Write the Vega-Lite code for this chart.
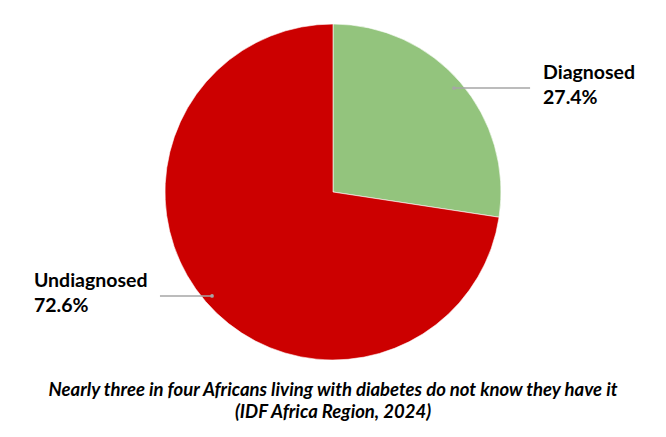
{
  "$schema": "https://vega.github.io/schema/vega-lite/v6.json",
  "width": 666,
  "height": 384,
  "padding": 0,
  "autosize": {"type": "pad"},
  "background": "white",
  "config": {"view": {"stroke": null}},
  "title": {
    "text": ["Nearly three in four Africans living with diabetes do not know they have it", "(IDF Africa Region, 2024)"],
    "orient": "bottom",
    "anchor": "middle",
    "offset": -3,
    "font": "Lato",
    "fontSize": 18.5,
    "fontWeight": "bold",
    "fontStyle": "italic",
    "color": "#000000",
    "lineHeight": 22
  },
  "datasets": {
    "slices": [
      {"status": "Diagnosed", "share": 27.4, "order": 1},
      {"status": "Undiagnosed", "share": 72.6, "order": 2}
    ],
    "labels": [
      {"status": "Diagnosed", "label": "Diagnosed\n27.4%", "dotX": 0.72, "dotY": 0.619, "lineEnd": 1.173, "textX": 1.25},
      {"status": "Undiagnosed", "label": "Undiagnosed\n72.6%", "dotX": -0.72, "dotY": -0.619, "lineEnd": -1.03, "textX": -1.78}
    ]
  },
  "layer": [
    {
      "data": {"name": "slices"},
      "mark": {"type": "arc", "outerRadius": 168, "stroke": "#ffffff", "strokeWidth": 0.6},
      "encoding": {
        "theta": {"field": "share", "type": "quantitative", "stack": true},
        "order": {"field": "order", "type": "quantitative"},
        "color": {
          "field": "status",
          "type": "nominal",
          "scale": {"domain": ["Diagnosed", "Undiagnosed"], "range": ["#93C47D", "#CC0000"]},
          "legend": null
        }
      }
    },
    {
      "data": {"name": "labels"},
      "mark": {"type": "rule", "color": "#A6A6A6", "strokeWidth": 1.5},
      "encoding": {
        "x": {"field": "dotX", "type": "quantitative", "scale": {"domain": [-1.982, 1.982], "nice": false, "zero": false}, "axis": null},
        "x2": {"field": "lineEnd"},
        "y": {"field": "dotY", "type": "quantitative", "scale": {"domain": [-1.143, 1.143], "nice": false, "zero": false}, "axis": null}
      }
    },
    {
      "data": {"name": "labels"},
      "mark": {"type": "point", "filled": true, "color": "#A6A6A6", "size": 14, "opacity": 1},
      "encoding": {
        "x": {"field": "dotX", "type": "quantitative", "scale": {"domain": [-1.982, 1.982], "nice": false, "zero": false}, "axis": null},
        "y": {"field": "dotY", "type": "quantitative", "scale": {"domain": [-1.143, 1.143], "nice": false, "zero": false}, "axis": null}
      }
    },
    {
      "data": {"name": "labels"},
      "mark": {"type": "text", "align": "left", "baseline": "middle", "dy": -15, "font": "Lato", "fontSize": 19.5, "fontWeight": "bold", "color": "#000000", "lineBreak": "\n", "lineHeight": 25},
      "encoding": {
        "x": {"field": "textX", "type": "quantitative", "scale": {"domain": [-1.982, 1.982], "nice": false, "zero": false}, "axis": null},
        "y": {"field": "dotY", "type": "quantitative", "scale": {"domain": [-1.143, 1.143], "nice": false, "zero": false}, "axis": null},
        "text": {"field": "label"}
      }
    }
  ]
}
